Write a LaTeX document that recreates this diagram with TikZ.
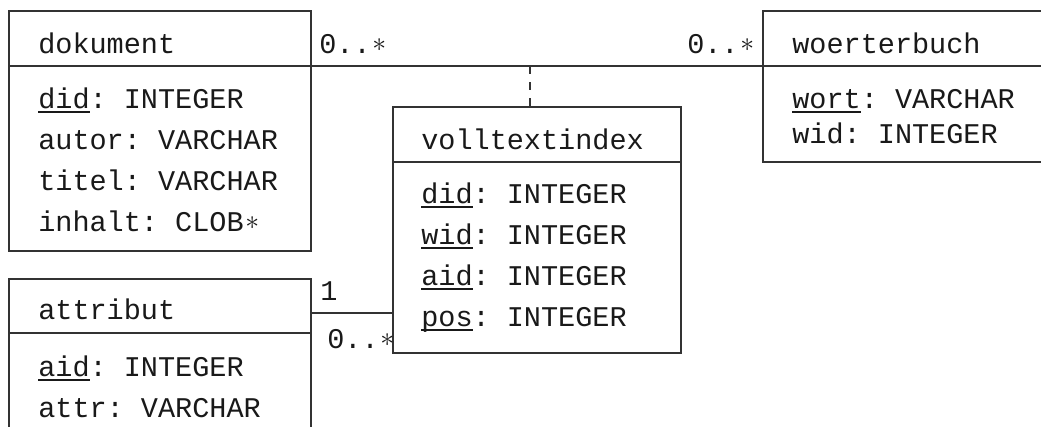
\documentclass[tikz,border=0pt]{standalone}
\usepackage{fontspec}
\setmonofont{Liberation Mono}
\newcommand\pkey[1]{\setbox0\hbox{#1}\rlap{\rule[-3.6pt]{\wd0}{1.2pt}}\box0}
\newcommand\mstar{\makebox[0.6em]{\raisebox{1.5pt}{\fontsize{20pt}{20pt}\selectfont$\ast$}}}
\newcommand\fs{\ttfamily\fontsize{21.4pt}{25pt}\selectfont}
\begin{document}
\begin{tikzpicture}[x=0.75pt,y=-0.75pt,
  box/.style={draw=black!80, line width=1pt, inner sep=0pt, outer sep=0pt, anchor=north west},
  txt/.style={anchor=base west, inner sep=0pt, font=\fs, text=black!90},
  lnk/.style={draw=black!80, line width=1pt}]
\useasboundingbox (0,0) rectangle (1041,426);
\begin{scope}
\clip (0,0) rectangle (1041,426);
% dokument
\node[box, minimum width=226.5pt, minimum height=41.25pt] (dokhead) at (9,11) {};
\node[box, minimum width=226.5pt, minimum height=138.75pt] (dokbody) at (9,66) {};
\node[txt] (dokt) at (38,53) {dokument};
\node[txt] (dok1) at (38,108) {\pkey{did}: INTEGER};
\node[txt] (dok2) at (38,149) {autor: VARCHAR};
\node[txt] (dok3) at (38,190) {titel: VARCHAR};
\node[txt] (dok4) at (38,231) {inhalt: CLOB\mstar};
% attribut
\node[box, minimum width=226.5pt, minimum height=40.5pt] (atthead) at (9,279) {};
\node[box, minimum width=226.5pt, minimum height=82.5pt] (attbody) at (9,333) {};
\node[txt] (attt) at (38,319) {attribut};
\node[txt] (att1) at (38,376) {\pkey{aid}: INTEGER};
\node[txt] (att2) at (38,417) {attr: VARCHAR};
% volltextindex
\node[box, minimum width=216pt, minimum height=41.25pt] (vtihead) at (393,107) {};
\node[box, minimum width=216pt, minimum height=143.25pt] (vtibody) at (393,162) {};
\node[txt] (vtit) at (421,149) {volltextindex};
\node[txt] (vti1) at (421,203) {\pkey{did}: INTEGER};
\node[txt] (vti2) at (421,244) {\pkey{wid}: INTEGER};
\node[txt] (vti3) at (421,285) {\pkey{aid}: INTEGER};
\node[txt] (vti4) at (421,326) {\pkey{pos}: INTEGER};
% woerterbuch
\node[box, minimum width=225pt, minimum height=41.25pt] (woehead) at (763,11) {};
\node[box, minimum width=225pt, minimum height=72pt] (woebody) at (763,66) {};
\node[txt] (woet) at (792,53) {woerterbuch};
\node[txt] (woe1) at (792,108) {\pkey{wort}: VARCHAR};
\node[txt] (woe2) at (792,143) {wid: INTEGER};
% connectors
\draw[lnk] (dokhead.south east) -- (woehead.south west);
\coordinate (amid) at (530,66);
\draw[lnk, dash pattern=on 6pt off 6pt] (amid) -- (amid |- vtihead.north);
\coordinate (lk) at (0,313);
\draw[lnk] (atthead.east |- lk) -- (vtibody.west |- lk);
% multiplicities
\node[txt] (m1) at (319,53) {0..\mstar};
\node[txt, anchor=base east] (m2) at (756,53) {0..\mstar};
\node[txt] (m3) at (320,300) {1};
\node[txt] (m4) at (327,348) {0..\mstar};
\end{scope}
\end{tikzpicture}
\end{document}
